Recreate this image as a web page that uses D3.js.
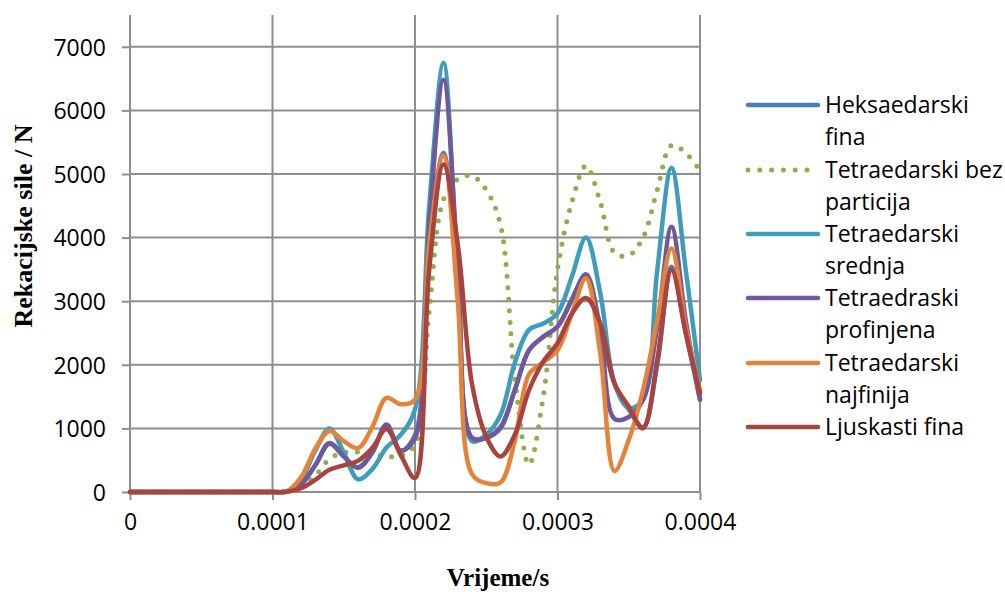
<!DOCTYPE html>
<html>
<head>
<meta charset="utf-8">
<script src="https://cdn.jsdelivr.net/npm/d3@7"></script>
<style>
  html, body { margin: 0; padding: 0; background: #fff; }
  svg { display: block; }
</style>
</head>
<body>
<svg id="chart" width="1005" height="592"></svg>
<script>
// ---- data ----
const time = [0, 0.00001, 0.00002, 0.00003, 0.00004, 0.00005, 0.00006, 0.00007, 0.00008, 0.00009,
  0.0001, 0.00011, 0.00012, 0.00013, 0.00014, 0.00015, 0.00016, 0.00017, 0.00018, 0.00019,
  0.0002, 0.00021, 0.00022, 0.00023, 0.00024, 0.00025, 0.00026, 0.00027, 0.00028, 0.00029,
  0.0003, 0.00031, 0.00032, 0.00033, 0.00034, 0.00035, 0.00036, 0.00037, 0.00038, 0.00039, 0.0004];

const heksaedarskiFina = [0,0,0,0,0,0,0,0,0,0,
  0, 5, 120, 420, 760, 560, 390, 620, 1050, 650,
  900, 3900, 5330, 3300, 850, 850, 1000, 1600, 2230, 2440,
  2600, 3020, 3420, 2600, 1700, 1300, 1020, 2000, 3540, 2500, 1450];

const tetraBezParticija = [0,0,0,0,0,0,0,0,0,0,
  0, 0, 80, 260, 520, 620, 630, 600, 560, 570,
  750, 2850, 4600, 4920, 4970, 4750, 4200, 1800, 430, 1500,
  3500, 4550, 5130, 4560, 3760, 3720, 4000, 4750, 5450, 5330, 5050];

const tetraSrednja = [0,0,0,0,0,0,0,0,0,0,
  0, 10, 200, 650, 1000, 620, 200, 360, 700, 900,
  1300, 4500, 6750, 3400, 800, 900, 1210, 2030, 2550, 2650,
  2810, 3380, 4000, 3130, 1710, 1320, 1450, 3490, 5100, 3490, 1760];

const tetraProfinjena = [0,0,0,0,0,0,0,0,0,0,
  0, 5, 120, 420, 770, 560, 380, 620, 1060, 650,
  850, 4200, 6480, 3600, 850, 850, 1020, 1600, 2230, 2440,
  2600, 3020, 3420, 2500, 1150, 1180, 1450, 2600, 4170, 2700, 1450];

const tetraNajfinija = [0,0,0,0,0,0,0,0,0,0,
  0, 10, 230, 680, 960, 800, 690, 1020, 1480, 1380,
  1450, 3900, 5290, 3000, 280, 140, 150, 800, 1850, 2040,
  2230, 2800, 3360, 2180, 330, 820, 1600, 2700, 3830, 2600, 1600];

const ljuskastiFina = [0,0,0,0,0,0,0,0,0,0,
  0, 5, 60, 190, 350, 420, 490, 690, 990, 580,
  220, 3500, 5150, 3900, 1700, 870, 560, 900, 1600, 2050,
  2340, 2800, 3050, 2650, 1710, 1340, 1000, 2080, 3490, 2500, 1550];

const seriesNames = [
  ["Heksaedarski", "fina"],
  ["Tetraedarski bez", "particija"],
  ["Tetraedarski", "srednja"],
  ["Tetraedraski", "profinjena"],
  ["Tetraedarski", "najfinija"],
  ["Ljuskasti fina"]
];
const seriesValues = [heksaedarskiFina, tetraBezParticija, tetraSrednja, tetraProfinjena, tetraNajfinija, ljuskastiFina];
const seriesColors = ["#4A7EBB", "#8AB04A", "#3E9DB9", "#71589A", "#E3843A", "#A8433F"];
const seriesDotted = [false, true, false, false, false, false];

const yTicks = [0, 1000, 2000, 3000, 4000, 5000, 6000, 7000];
const xTicks = [0, 0.0001, 0.0002, 0.0003, 0.0004];
const xTickLabels = ["0", "0.0001", "0.0002", "0.0003", "0.0004"];

// ---- layout ----
(function () {
const svg = d3.select("#chart");
const pL = 130, pR = 700, pT = 15, pB = 492;
const x = d3.scaleLinear().domain([0, 0.0004]).range([pL, pR]);
const y = d3.scaleLinear().domain([0, 7500]).range([pB, pT]);
const gridColor = "#8E8E8E";
const sans = "'Open Sans', 'Noto Sans', sans-serif";
const serif = "'Liberation Serif', 'DejaVu Serif', serif";

// gridlines
svg.append("g").selectAll("line").data(yTicks.filter(d => d > 0)).join("line")
  .attr("x1", pL).attr("x2", pR)
  .attr("y1", d => y(d)).attr("y2", d => y(d))
  .attr("stroke", gridColor).attr("stroke-width", 2);
svg.append("g").selectAll("line").data(xTicks.filter(d => d > 0)).join("line")
  .attr("x1", d => x(d)).attr("x2", d => x(d))
  .attr("y1", pT).attr("y2", pB)
  .attr("stroke", gridColor).attr("stroke-width", 2);

// axes
const yAxis = d3.axisLeft(y).tickValues(yTicks).tickSize(8).tickPadding(16).tickFormat(d3.format("d"));
const gy = svg.append("g").attr("transform", `translate(${pL},0)`).call(yAxis);
gy.select(".domain").attr("d", `M0,${pT}V${pB}`).attr("stroke", gridColor).attr("stroke-width", 2);
gy.selectAll(".tick line").attr("stroke", gridColor).attr("stroke-width", 2);
gy.selectAll(".tick text").attr("font-family", sans).attr("font-size", 23).attr("fill", "#000")
  .attr("dy", "0.36em");

const xAxis = d3.axisBottom(x).tickValues(xTicks).tickSize(8).tickPadding(14)
  .tickFormat((d, i) => xTickLabels[i]);
const gx = svg.append("g").attr("transform", `translate(0,${pB})`).call(xAxis);
gx.select(".domain").attr("d", `M${pL},0H${pR}`).attr("stroke", gridColor).attr("stroke-width", 2);
gx.selectAll(".tick line").attr("stroke", gridColor).attr("stroke-width", 2);
gx.selectAll(".tick text").attr("font-family", sans).attr("font-size", 23).attr("fill", "#000");

// lines
const line = d3.line().x((d, i) => x(time[i])).y(d => y(d)).curve(d3.curveCatmullRom.alpha(0.5));
seriesValues.forEach((vals, s) => {
  svg.append("path").datum(vals)
    .attr("d", line)
    .attr("fill", "none")
    .attr("stroke", seriesColors[s])
    .attr("stroke-width", seriesDotted[s] ? 5 : 4.5)
    .attr("stroke-linecap", "round")
    .attr("stroke-linejoin", "round")
    .attr("stroke-dasharray", seriesDotted[s] ? "0 11.5" : null);
});

// axis titles
svg.append("text").attr("x", 498).attr("y", 586).attr("text-anchor", "middle")
  .attr("font-family", serif).attr("font-weight", "bold").attr("font-size", 25).attr("fill", "#000")
  .text("Vrijeme/s");
svg.append("text").attr("transform", "translate(32,226) rotate(-90)").attr("text-anchor", "middle")
  .attr("font-family", serif).attr("font-weight", "bold").attr("font-size", 26).attr("fill", "#000")
  .text("Rekacijske sile / N");

// legend
const legY = [105, 170, 234, 298, 363, 427];
const leg = svg.append("g");
seriesNames.forEach((names, s) => {
  const g = leg.append("g").attr("transform", `translate(0,${legY[s]})`);
  g.append("line").attr("x1", 748).attr("x2", 818).attr("y1", 0).attr("y2", 0)
    .attr("stroke", seriesColors[s]).attr("stroke-width", seriesDotted[s] ? 5 : 4.5)
    .attr("stroke-linecap", "round")
    .attr("stroke-dasharray", seriesDotted[s] ? "0 11.8" : null);
  names.forEach((t, k) => {
    g.append("text").attr("x", 825).attr("y", k * 32).attr("dy", "0.36em")
      .attr("font-family", sans).attr("font-size", 23).attr("fill", "#000").text(t);
  });
});
})();
</script>
</body>
</html>
